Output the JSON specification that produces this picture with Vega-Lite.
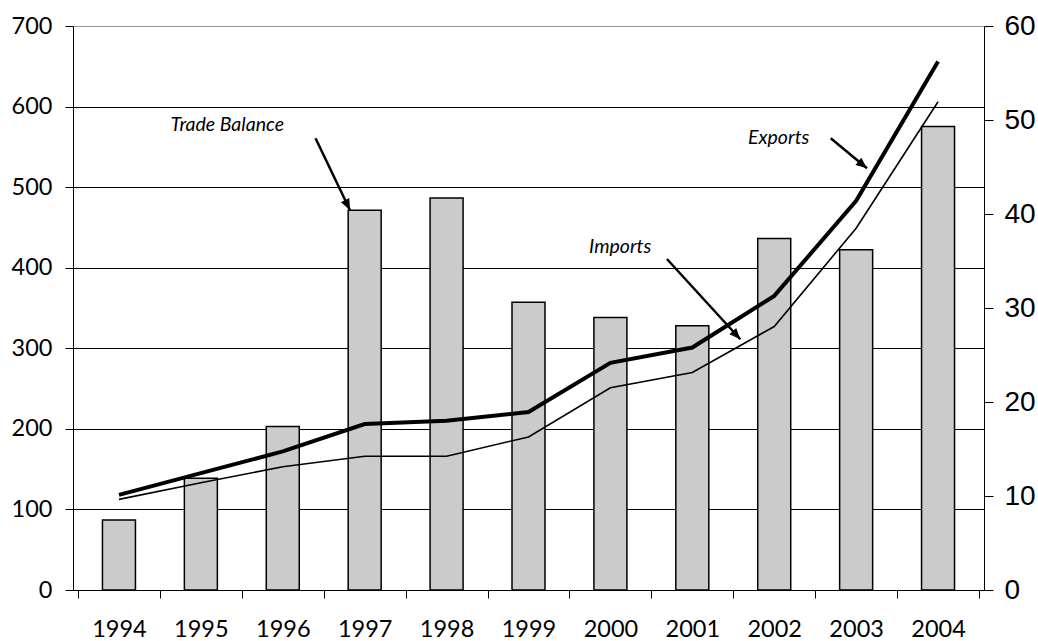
{
  "$schema": "https://vega.github.io/schema/vega-lite/v6.json",
  "width": 911,
  "height": 564,
  "autosize": {"type": "none"},
  "padding": {"left": 73, "top": 26, "right": 54, "bottom": 51},
  "background": "white",
  "config": {
    "view": {"stroke": null},
    "axis": {"labelColor": "black", "domainColor": "black", "tickColor": "black", "domainWidth": 1, "tickWidth": 1}
  },
  "datasets": {
    "trade": [
      {"year": 1994, "exports": 118, "imports": 112.5, "balance": 7.45},
      {"year": 1995, "exports": 145, "imports": 133, "balance": 11.9},
      {"year": 1996, "exports": 172, "imports": 153, "balance": 17.4},
      {"year": 1997, "exports": 206, "imports": 166, "balance": 40.4},
      {"year": 1998, "exports": 210, "imports": 166, "balance": 41.7},
      {"year": 1999, "exports": 221, "imports": 190, "balance": 30.6},
      {"year": 2000, "exports": 282, "imports": 251, "balance": 29.0},
      {"year": 2001, "exports": 301, "imports": 270, "balance": 28.1},
      {"year": 2002, "exports": 365, "imports": 327, "balance": 37.4},
      {"year": 2003, "exports": 483, "imports": 449, "balance": 36.2},
      {"year": 2004, "exports": 656, "imports": 606, "balance": 49.3}
    ],
    "notes": [
      {"label": "Trade Balance", "nx": 1994.63, "ny": 577},
      {"label": "Imports", "nx": 1999.74, "ny": 426},
      {"label": "Exports", "nx": 2001.68, "ny": 561}
    ],
    "arrows": [
      {"name": "tb", "ax": 1996.40, "ay": 560.6, "tx": 1996.82, "ty": 471.6},
      {"name": "im", "ax": 2000.69, "ay": 410.8, "tx": 2001.586, "ty": 311.2},
      {"name": "ex", "ax": 2002.69, "ay": 560.6, "tx": 2003.132, "ty": 523.4}
    ]
  },
  "layer": [
    {
      "data": {"name": "trade"},
      "mark": {"type": "bar", "width": 33, "fill": "#cbcbcb", "stroke": "black", "strokeWidth": 1.5},
      "encoding": {
        "x": {
          "field": "year", "type": "quantitative", "title": null,
          "scale": {"domain": [1993.5, 2004.5], "nice": false, "zero": false},
          "axis": {
            "values": [1993.5, 1994, 1994.5, 1995, 1995.5, 1996, 1996.5, 1997, 1997.5, 1998, 1998.5, 1999, 1999.5, 2000, 2000.5, 2001, 2001.5, 2002, 2002.5, 2003, 2003.5, 2004, 2004.5],
            "labelExpr": "datum.value % 1 === 0 ? '' + datum.value : ''",
            "tickOpacity": {"condition": {"test": "datum.value % 1 === 0", "value": 0}, "value": 1},
            "tickSize": 8, "labelFont": "Lato", "labelFontSize": 23.5, "labelPadding": 19,
            "grid": false, "labelOverlap": false, "labelFlush": false
          }
        },
        "y": {
          "field": "balance", "type": "quantitative", "title": null,
          "scale": {"domain": [0, 60], "nice": false},
          "axis": {
            "orient": "right", "values": [0, 10, 20, 30, 40, 50, 60], "grid": false,
            "labelFont": "Liberation Sans", "labelFontSize": 28, "tickSize": 9, "labelPadding": 11
          }
        }
      }
    },
    {
      "layer": [
        {
          "data": {"name": "trade"},
          "mark": {"type": "line", "color": "black", "strokeWidth": 1.6},
          "encoding": {
            "x": {"field": "year", "type": "quantitative", "title": null},
            "y": {
              "field": "imports", "type": "quantitative", "title": null,
              "scale": {"domain": [0, 700], "nice": false},
              "axis": {
                "orient": "left", "values": [0, 100, 200, 300, 400, 500, 600, 700],
                "grid": true, "gridWidth": 1,
                "gridColor": {"condition": {"test": "datum.value === 700", "value": "#999999"}, "value": "black"},
                "labelFont": "Lato", "labelFontSize": 23.5, "tickSize": 8, "labelPadding": 13
              }
            }
          }
        },
        {
          "data": {"name": "trade"},
          "mark": {"type": "line", "color": "black", "strokeWidth": 4},
          "encoding": {
            "x": {"field": "year", "type": "quantitative", "title": null},
            "y": {"field": "exports", "type": "quantitative", "title": null}
          }
        },
        {
          "data": {"name": "arrows"},
          "mark": {"type": "rule", "color": "black", "strokeWidth": 2.5},
          "encoding": {
            "x": {"field": "ax", "type": "quantitative", "title": null},
            "y": {"field": "ay", "type": "quantitative", "title": null},
            "x2": {"field": "tx"},
            "y2": {"field": "ty"}
          }
        },
        {
          "data": {"name": "arrows"},
          "transform": [{"filter": "datum.name === 'tb'"}],
          "mark": {"type": "point", "shape": "M0,0L-0.42,1L0.42,1Z", "filled": true, "color": "black", "opacity": 1, "size": 484, "angle": 154},
          "encoding": {
            "x": {"field": "tx", "type": "quantitative", "title": null},
            "y": {"field": "ty", "type": "quantitative", "title": null}
          }
        },
        {
          "data": {"name": "arrows"},
          "transform": [{"filter": "datum.name === 'im'"}],
          "mark": {"type": "point", "shape": "M0,0L-0.42,1L0.42,1Z", "filled": true, "color": "black", "opacity": 1, "size": 484, "angle": 137},
          "encoding": {
            "x": {"field": "tx", "type": "quantitative", "title": null},
            "y": {"field": "ty", "type": "quantitative", "title": null}
          }
        },
        {
          "data": {"name": "arrows"},
          "transform": [{"filter": "datum.name === 'ex'"}],
          "mark": {"type": "point", "shape": "M0,0L-0.42,1L0.42,1Z", "filled": true, "color": "black", "opacity": 1, "size": 484, "angle": 129},
          "encoding": {
            "x": {"field": "tx", "type": "quantitative", "title": null},
            "y": {"field": "ty", "type": "quantitative", "title": null}
          }
        },
        {
          "data": {"name": "notes"},
          "mark": {"type": "text", "align": "left", "baseline": "middle", "font": "Lato", "fontStyle": "italic", "fontSize": 19.5, "color": "black"},
          "encoding": {
            "x": {"field": "nx", "type": "quantitative", "title": null},
            "y": {"field": "ny", "type": "quantitative", "title": null},
            "text": {"field": "label"}
          }
        }
      ]
    }
  ],
  "resolve": {"scale": {"y": "independent"}}
}
